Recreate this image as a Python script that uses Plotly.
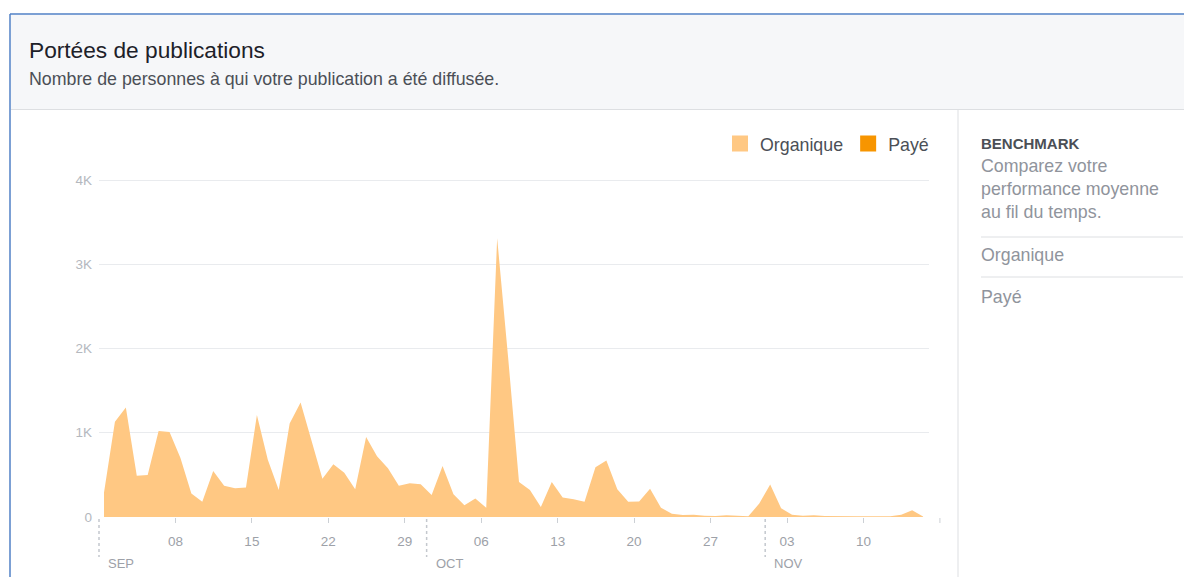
import plotly.graph_objects as go
import pandas as pd

# ---------------- DATA ----------------
start_date = "2015-09-01 11:00"
organique = [
    290, 1130, 1300, 490, 500, 1020, 1010, 700, 280, 180,
    545, 370, 340, 350, 1210, 680, 320, 1110, 1360, 920,
    455, 625, 525, 330, 950, 720, 580, 370, 400, 390,
    260, 605, 270, 140, 220, 110, 3310, 1900, 415, 320,
    120, 415, 230, 210, 180, 590, 670, 330, 180, 185,
    335, 110, 40, 25, 28, 15, 12, 20, 15, 8,
    160, 385, 105, 28, 16, 20, 12, 8, 8, 8,
    8, 8, 10, 28, 80, 5,
]
paye = [
    0, 0, 0, 0, 0, 0, 0, 0, 0, 0,
    0, 0, 0, 0, 0, 0, 0, 0, 0, 0,
    0, 0, 0, 0, 0, 0, 0, 0, 0, 0,
    0, 0, 0, 0, 0, 0, 0, 0, 0, 0,
    0, 0, 0, 0, 0, 0, 0, 0, 0, 0,
    0, 0, 0, 0, 0, 0, 0, 0, 0, 0,
    0, 0, 0, 0, 0, 0, 0, 0, 0, 0,
    0, 0, 0, 0, 0, 0,
]
tick_dates = ["2015-09-08", "2015-09-15", "2015-09-22", "2015-09-29", "2015-10-06",
              "2015-10-13", "2015-10-20", "2015-10-27", "2015-11-03", "2015-11-10"]
tick_labels = ["08", "15", "22", "29", "06", "13", "20", "27", "03", "10"]
month_starts = ["2015-09-01", "2015-10-01", "2015-11-01"]
month_labels = ["SEP", "OCT", "NOV"]
extra_tick = "2015-11-17"
y_ticks = [0, 1000, 2000, 3000, 4000]
y_labels = ["0", "1K", "2K", "3K", "4K"]
x_range = ["2015-09-01", "2015-11-16"]
y_range = [0, 4036]

dates = pd.date_range(start_date, periods=len(organique), freq="D")

# ---------------- STYLE ----------------
OFF = 8  # page body margin
SW, SH = 1192, 577  # screenshot size
W, H = SW - OFF, SH - OFF
ML, MR, MT, MB = 99 - OFF, 263, 177 - OFF, 60
PW, PH = W - ML - MR, H - MT - MB
FONT = "Liberation Sans, Arial, Helvetica, sans-serif"
C_ORG = "#ffc883"
C_PAY = "#f79500"
C_DARK = "#4b4f56"
C_GRAY = "#90949c"
C_LINE = "#dddfe2"


def px(x):
    # screenshot x pixel -> paper
    return (x - OFF - ML) / PW


def py(y):
    # screenshot y pixel -> paper
    return (SH - MB - y) / PH


x0 = pd.Timestamp(x_range[0])
x1 = pd.Timestamp(x_range[1])


def dx(d):
    return (pd.Timestamp(d) - x0) / (x1 - x0)


fig = go.Figure()
fig.add_trace(go.Scatter(x=dates, y=organique, stackgroup="one", mode="lines",
                         line=dict(width=0), fillcolor=C_ORG, showlegend=False,
                         name="Organique"))
fig.add_trace(go.Scatter(x=dates, y=paye, stackgroup="one", mode="lines",
                         line=dict(width=0), fillcolor=C_PAY, showlegend=False,
                         name="Payé"))
# legend entries
fig.add_trace(go.Scatter(x=[None], y=[None], mode="markers", name="Organique",
                         marker=dict(symbol="square", size=18, color=C_ORG)))
fig.add_trace(go.Scatter(x=[None], y=[None], mode="markers", name="Payé",
                         marker=dict(symbol="square", size=18, color=C_PAY)))

shapes = []
# outer blue border
shapes.append(dict(type="line", xref="paper", yref="paper", x0=px(10), x1=px(SW + 2),
                   y0=py(14), y1=py(14), line=dict(color="#5080c6", width=1.5)))
shapes.append(dict(type="line", xref="paper", yref="paper", x0=px(10), x1=px(10),
                   y0=py(14), y1=py(SH + 2), line=dict(color="#5080c6", width=1.5)))
# header background
shapes.append(dict(type="rect", xref="paper", yref="paper", x0=px(11), x1=px(SW + 2),
                   y0=py(15), y1=py(109), fillcolor="#f6f7f9", line=dict(width=0),
                   layer="below"))
shapes.append(dict(type="line", xref="paper", yref="paper", x0=px(11), x1=px(SW + 2),
                   y0=py(109.5), y1=py(109.5), line=dict(color=C_LINE, width=1)))
# right panel divider
shapes.append(dict(type="line", xref="paper", yref="paper", x0=px(958), x1=px(958),
                   y0=py(110), y1=py(SH + 2), line=dict(color=C_LINE, width=1)))
shapes.append(dict(type="line", xref="paper", yref="paper", x0=px(981), x1=px(1183),
                   y0=py(237), y1=py(237), line=dict(color=C_LINE, width=1)))
shapes.append(dict(type="line", xref="paper", yref="paper", x0=px(981), x1=px(1183),
                   y0=py(277), y1=py(277), line=dict(color=C_LINE, width=1)))
# month separators (dotted)
for d in month_starts:
    shapes.append(dict(type="line", xref="paper", yref="paper", x0=dx(d), x1=dx(d),
                       y0=py(519), y1=py(557),
                       line=dict(color="#c4c8ce", width=1.5, dash="dot")))
# last tick beyond the range
shapes.append(dict(type="line", xref="paper", yref="paper", x0=dx(extra_tick), x1=dx(extra_tick),
                   y0=py(518), y1=py(523), line=dict(color="#ccd0d5", width=1)))

annotations = []


def txt(x, y, s, size, color, bold=False):
    annotations.append(dict(xref="paper", yref="paper", x=px(x), y=py(y),
                            text=("<b>%s</b>" % s) if bold else s,
                            showarrow=False, xanchor="left", yanchor="middle",
                            font=dict(family=FONT, size=size, color=color)))


txt(27, 50, "Portées de publications", 22.7, "#1d2129")
txt(27, 79, "Nombre de personnes à qui votre publication a été diffusée.", 17.8, C_DARK)
txt(979, 144, "BENCHMARK", 15, C_DARK, bold=True)
txt(979, 166, "Comparez votre", 17.8, C_GRAY)
txt(979, 189, "performance moyenne", 17.8, C_GRAY)
txt(979, 212, "au fil du temps.", 17.8, C_GRAY)
txt(979, 255, "Organique", 17.8, C_GRAY)
txt(979, 297, "Payé", 17.8, C_GRAY)

for d, lab in zip(month_starts, month_labels):
    annotations.append(dict(xref="paper", yref="paper", x=dx(d), y=py(563), text=lab,
                            showarrow=False, xanchor="left", yanchor="middle", xshift=7,
                            font=dict(family=FONT, size=13, color="#9da1a8")))

fig.update_layout(
    width=W, height=H,
    margin=dict(l=ML, r=MR, t=MT, b=MB, pad=0),
    paper_bgcolor="white", plot_bgcolor="white",
    font=dict(family=FONT),
    shapes=shapes, annotations=annotations,
    legend=dict(orientation="h", traceorder="normal", x=1.0 + 5 / PW, xanchor="right",
                y=py(144), yanchor="middle",
                bgcolor="rgba(0,0,0,0)", font=dict(family=FONT, size=17.8, color=C_DARK),
                itemclick=False, itemdoubleclick=False),
    xaxis=dict(type="date", range=x_range, tickvals=tick_dates, ticktext=tick_labels,
               ticks="outside", ticklen=5, tickcolor="#ccd0d5", tickwidth=1,
               showgrid=False, zeroline=False, showline=False, ticklabelstandoff=7,
               tickfont=dict(family=FONT, size=13.5, color="#9da1a8"), fixedrange=True),
    yaxis=dict(range=y_range, tickvals=y_ticks, ticktext=y_labels, ticks="",
               showgrid=True, gridcolor="#e9ebee", gridwidth=1, zeroline=False,
               showline=False, ticklabelstandoff=6,
               tickfont=dict(family=FONT, size=13.5, color="#b4b8be"), fixedrange=True),
    hovermode=False,
)

fig.write_html("out.html", config={"displayModeBar": False})
